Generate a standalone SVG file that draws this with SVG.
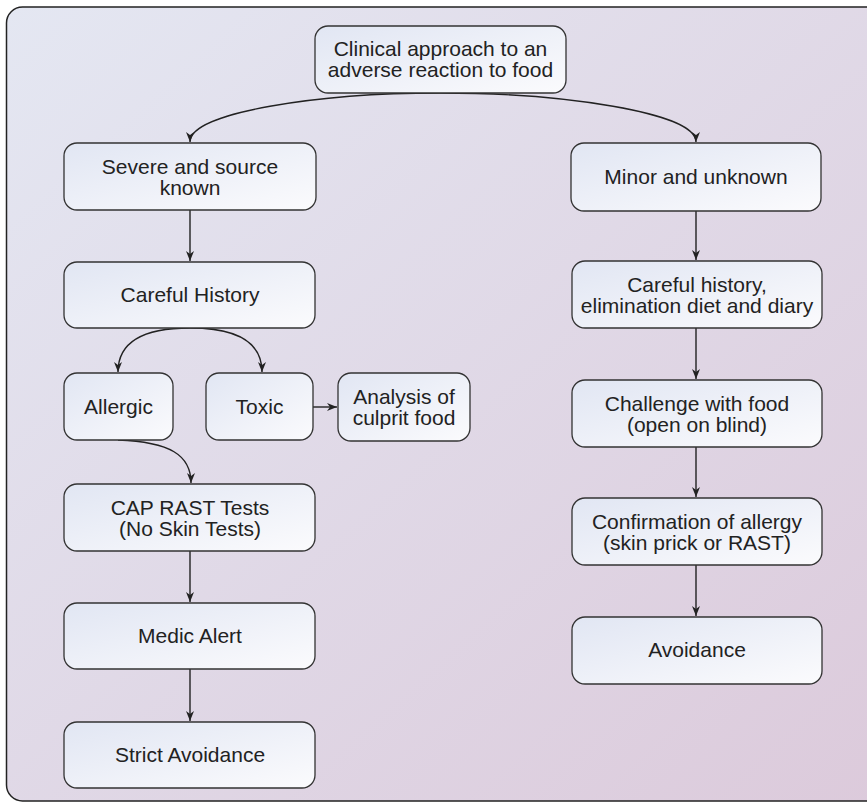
<svg xmlns="http://www.w3.org/2000/svg" width="867" height="804" viewBox="0 0 867 804">
<defs>
<linearGradient id="bg" x1="0" y1="0" x2="1" y2="1">
<stop offset="0" stop-color="#e4e7f2"/>
<stop offset="1" stop-color="#dccadb"/>
</linearGradient>
<linearGradient id="box" x1="0" y1="0" x2="1" y2="1">
<stop offset="0" stop-color="#e1e6f3"/>
<stop offset="1" stop-color="#fbfbfd"/>
</linearGradient>
<marker id="ah" viewBox="0 0 10 10" refX="10" refY="5" markerWidth="10" markerHeight="10" markerUnits="userSpaceOnUse" orient="auto">
<path d="M0,1 L10,5 L0,9 L3,5 z" fill="#222"/>
</marker>
<style>
.n rect{fill:url(#box);stroke:#333;stroke-width:1.3}
.n text{font-family:"Liberation Sans",Arial,sans-serif;font-size:21px;fill:#222;text-anchor:middle}
#edges path{fill:none;stroke:#222;stroke-width:1.4;marker-end:url(#ah)}
</style>
</defs>
<rect x="6.5" y="7" width="880" height="794" rx="16" fill="url(#bg)" stroke="#222" stroke-width="1.5"/>
<g id="edges">
<path d="M440,93 C320,93 190,112 190,142"/>
<path d="M440,93 C560,93 696,112 696,142"/>
<path d="M190,210 L190,261"/>
<path d="M190,328 C150,328 118,338 118,372"/>
<path d="M190,328 C230,328 262,338 262,372"/>
<path d="M313,407 L337,407"/>
<path d="M118,440 C170,442 191,455 191,483"/>
<path d="M190,551 L190,602"/>
<path d="M190,669 L190,721"/>
<path d="M696,211 L696,260"/>
<path d="M696,328 L696,379"/>
<path d="M696,447 L696,497"/>
<path d="M696,565 L696,616"/>
</g>
<g id="n-top" class="n"><rect x="315" y="26" width="251" height="67" rx="13"/><text x="440.5" y="56">Clinical approach to an</text><text x="440.5" y="77">adverse reaction to food</text></g>
<g id="n-severe" class="n"><rect x="64" y="143" width="252" height="67" rx="13"/><text x="190" y="174">Severe and source</text><text x="190" y="195">known</text></g>
<g id="n-history" class="n"><rect x="64" y="262" width="251" height="66" rx="13"/><text x="190" y="302">Careful History</text></g>
<g id="n-allergic" class="n"><rect x="64" y="373" width="109" height="67" rx="13"/><text x="118.5" y="414">Allergic</text></g>
<g id="n-toxic" class="n"><rect x="206" y="373" width="107" height="67" rx="13"/><text x="259.5" y="414">Toxic</text></g>
<g id="n-analysis" class="n"><rect x="338" y="373" width="132" height="68" rx="13"/><text x="404" y="404">Analysis of</text><text x="404" y="425">culprit food</text></g>
<g id="n-cap" class="n"><rect x="64" y="484" width="251" height="67" rx="13"/><text x="190" y="515">CAP RAST Tests</text><text x="190" y="536">(No Skin Tests)</text></g>
<g id="n-medic" class="n"><rect x="64" y="603" width="251" height="66" rx="13"/><text x="190" y="643">Medic Alert</text></g>
<g id="n-strict" class="n"><rect x="64" y="722" width="251" height="66" rx="13"/><text x="190" y="762">Strict Avoidance</text></g>
<g id="n-minor" class="n"><rect x="571" y="143" width="250" height="68" rx="13"/><text x="696" y="184">Minor and unknown</text></g>
<g id="n-history2" class="n"><rect x="572" y="261" width="250" height="67" rx="13"/><text x="697" y="292">Careful history,</text><text x="697" y="313">elimination diet and diary</text></g>
<g id="n-challenge" class="n"><rect x="572" y="380" width="250" height="67" rx="13"/><text x="697" y="411">Challenge with food</text><text x="697" y="432">(open on blind)</text></g>
<g id="n-confirm" class="n"><rect x="572" y="498" width="250" height="67" rx="13"/><text x="697" y="529">Confirmation of allergy</text><text x="697" y="550">(skin prick or RAST)</text></g>
<g id="n-avoid" class="n"><rect x="572" y="617" width="250" height="67" rx="13"/><text x="697" y="657">Avoidance</text></g>
</svg>
